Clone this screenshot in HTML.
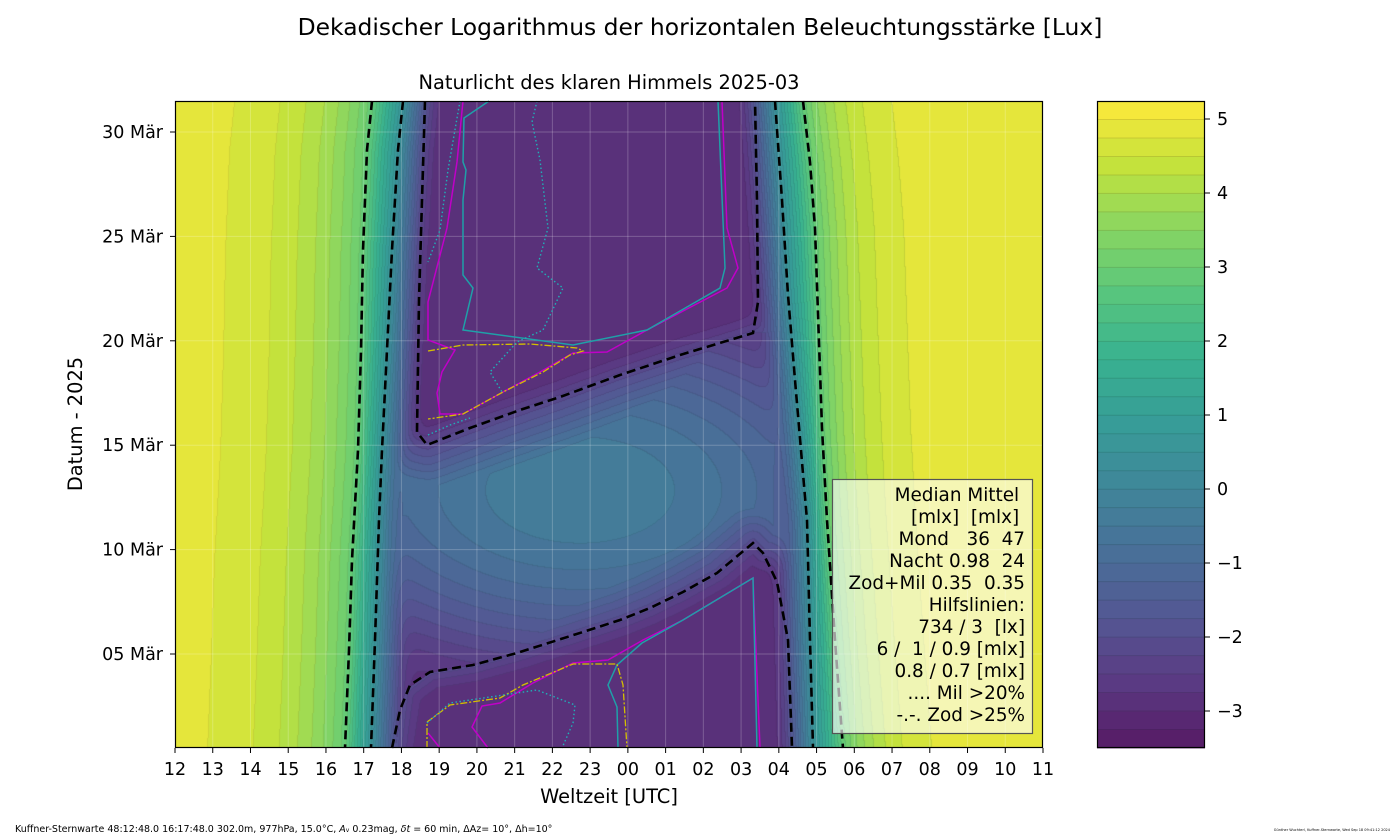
<!DOCTYPE html>
<html><head><meta charset="utf-8">
<style>
html,body{margin:0;padding:0;background:#fff;}
#wrap{position:relative;width:1400px;height:840px;overflow:hidden;font-family:"DejaVu Sans","Liberation Sans",sans-serif;}
canvas{position:absolute;left:175px;top:101px;}
svg{position:absolute;left:0;top:0;}
</style></head><body>
<div id="wrap">
<canvas id="c" width="868" height="647"></canvas>
<svg id="s" width="1400" height="840" xmlns="http://www.w3.org/2000/svg" font-family="DejaVu Sans, Liberation Sans, sans-serif">
<text x="700" y="35" font-size="23.4" text-anchor="middle">Dekadischer Logarithmus der horizontalen Beleuchtungsstärke [Lux]</text>
<text x="609" y="89" font-size="19.4" text-anchor="middle">Naturlicht des klaren Himmels 2025-03</text>
<text x="609" y="803" font-size="19.4" text-anchor="middle">Weltzeit [UTC]</text>
<text transform="translate(82,424) rotate(-90)" font-size="19.4" text-anchor="middle">Datum - 2025</text>
<text x="15" y="832" font-size="9.5">Kuffner-Sternwarte 48:12:48.0 16:17:48.0 302.0m,  977hPa, 15.0°C, <tspan font-style="italic">A</tspan><tspan font-size="6">v</tspan> 0.23mag, <tspan font-style="italic">δt</tspan> = 60 min, ΔAz= 10°, Δh=10°</text>
<text x="1390" y="831" font-size="3.5" text-anchor="end">Günther Wuchterl, Kuffner-Sternwarte, Wed Sep 18 09:41:12 2024</text>
<g id="grid" stroke="#ffffff" stroke-opacity="0.22" stroke-width="1"></g>
<g id="lines" fill="none"></g>
<g id="ax"></g>
<g id="leg"></g>
<g id="cb"></g>
</svg>
</div>
<script>
(function(){
var X0=175,Y0=101,W=868,H=647;
var vstops=[[68,1,84],[72,36,117],[65,68,135],[53,95,141],[42,120,142],[33,145,140],[34,168,132],[68,191,112],[122,209,81],[189,223,38],[253,231,37]];
function vir(t){t=Math.max(0,Math.min(1,t));var f=t*10,i=Math.min(9,Math.floor(f)),r=f-i;var a=vstops[i],b=vstops[i+1];return [a[0]+(b[0]-a[0])*r,a[1]+(b[1]-a[1])*r,a[2]+(b[2]-a[2])*r];}
function col(idx){var c=vir((idx+0.5)/35);return [c[0]*0.9+25.5,c[1]*0.9+25.5,c[2]*0.9+25.5];}
function interp(pts,y){
 if(y<=pts[0][1])return pts[0][0];
 for(var i=1;i<pts.length;i++){if(y<=pts[i][1]){var a=pts[i-1],b=pts[i];return a[0]+(b[0]-a[0])*(y-a[1])/(b[1]-a[1]);}}
 return pts[pts.length-1][0];}
var L1=[[372,101],[367,150],[363,250],[361,350],[358,450],[352,560],[349,650],[345,748]];
var L2=[[403,101],[398,150],[392,250],[387,350],[382,450],[379,520],[375,640],[371,748]];
var R2=[[775,101],[782,200],[788,295],[795,380],[802,462],[807,520],[810,640],[813,748]];
var R1=[[803,101],[810,162],[815,228],[822,428],[827,520],[835,640],[843,748]];
var poly=[[400,440],[427,445],[500,418],[560,397],[620,375],[680,355],[753,333],[800,330],[800,560],[763,553],[753,543],[717,573],[683,592],[650,608],[620,620],[583,632],[517,653],[473,665],[430,672],[405,690],[395,748],[370,748],[370,440]];
function inPoly(x,y){var c=false;for(var i=0,j=poly.length-1;i<poly.length;j=i++){var a=poly[i],b=poly[j];if(((a[1]>y)!=(b[1]>y))&&(x<(b[0]-a[0])*(y-a[1])/(b[1]-a[1])+a[0]))c=!c;}return c;}
function dPoly(x,y){var m=1e9;for(var i=0,j=poly.length-1;i<poly.length;j=i++){var a=poly[i],b=poly[j];var dx=b[0]-a[0],dy=b[1]-a[1];var t=((x-a[0])*dx+(y-a[1])*dy)/(dx*dx+dy*dy);t=Math.max(0,Math.min(1,t));var ex=a[0]+t*dx-x,ey=a[1]+t*dy-y;var d=ex*ex+ey*ey;if(d<m)m=d;}return Math.sqrt(m);}
var cv=document.getElementById('c'),ctx=cv.getContext('2d');
var img=ctx.createImageData(W,H),D=img.data;
var lev=new Int16Array(W*H);
for(var py=0;py<H;py++){
 var y=py+Y0;
 var l1=interp(L1,y),l2=interp(L2,y),r1=interp(R1,y),r2=interp(R2,y);
 for(var px=0;px<W;px++){
  var x=px+X0,sun;
  if(x<l1){sun=4.98-2.11*Math.exp(-(l1-x)/62);}
  else if(x<l2){sun=2.87-(2.87-0.48)*(x-l1)/(l2-l1);}
  else if(x>r1){sun=4.98-2.11*Math.exp(-(x-r1)/40);}
  else if(x>r2){sun=2.87-(2.87-0.48)*(r1-x)/(r1-r2);}
  else{var dd=Math.min(x-l2,r2-x);sun=0.48-3.9*dd/38;}
  var night=-2.95,moon;
  var dp=dPoly(x,y);
  if(inPoly(x,y)){
   var cap=-0.3-Math.pow((x-580)/240,2)*1.3-Math.pow((y-490)/140,2)*1.4;
   moon=Math.min(-2.2+dp*0.035,cap);
  } else {moon=-2.2-dp*0.06;}
  var v=Math.log10(Math.pow(10,sun)+Math.pow(10,night)+Math.pow(10,moon));
  var idx=Math.floor((v+3.5)/0.25);if(idx<0)idx=0;if(idx>34)idx=34;
  lev[py*W+px]=idx;
 }}
for(var py=0;py<H;py++)for(var px=0;px<W;px++){
 var i=py*W+px,idx=lev[i],c=col(idx);
 var edge=(px<W-1&&lev[i+1]!=idx)||(py<H-1&&lev[i+W]!=idx);
 var f=edge?0.92:1;
 D[i*4]=c[0]*f;D[i*4+1]=c[1]*f;D[i*4+2]=c[2]*f;D[i*4+3]=255;}
ctx.putImageData(img,0,0);

var NS="http://www.w3.org/2000/svg";
function el(p,n,a,t){var e=document.createElementNS(NS,n);for(var k in a)e.setAttribute(k,a[k]);if(t!==undefined)e.textContent=t;p.appendChild(e);return e;}
var g=document.getElementById('grid'),ax=document.getElementById('ax'),ln=document.getElementById('lines');
var hs=37.7391;
for(var i=0;i<24;i++){var x=X0+i*hs;el(g,'line',{x1:x,y1:Y0,x2:x,y2:Y0+H});
 el(ax,'line',{x1:x,y1:748,x2:x,y2:753,stroke:'#000','stroke-width':1});
 var h=(12+i)%24;el(ax,'text',{x:x,y:775,'font-size':17.5,'text-anchor':'middle'},(h<10?'0':'')+h);}
var ds=20.88;
for(var d=5;d<=30;d+=5){var y=654-(d-5)*ds;el(g,'line',{x1:X0,y1:y,x2:X0+W,y2:y});
 el(ax,'line',{x1:170,y1:y,x2:175,y2:y,stroke:'#000','stroke-width':1});
 el(ax,'text',{x:163,y:y+6,'font-size':17.5,'text-anchor':'end'},(d<10?'0':'')+d+' Mär');}
el(ax,'rect',{x:175.5,y:101.5,width:867,height:646,fill:'none',stroke:'#000','stroke-width':1.2});
function pl(pts,st){var s=pts.map(function(p){return p[0]+','+p[1];}).join(' ');var a={points:s};for(var k in st)a[k]=st[k];el(ln,'polyline',a);}
var dash={stroke:'#000','stroke-width':2.6,'stroke-dasharray':'9,5'};
pl(L1,dash);pl(L2,dash);pl(R2,dash);pl(R1,dash);
pl([[425,101],[422,200],[419,300],[417,432],[427,445],[470,428],[520,410],[560,397],[620,375],[680,355],[753,333],[758,302],[757,200],[755,101]],dash);
pl([[392,748],[400,710],[410,685],[430,672],[473,665],[517,653],[583,632],[620,620],[650,608],[683,592],[717,573],[753,543],[763,553],[777,582],[788,640],[792,748]],dash);
var cy={stroke:'#1fa0a8','stroke-width':1.5},mg={stroke:'#c000c8','stroke-width':1.5};
var yl={stroke:'#d4c000','stroke-width':1.3,'stroke-dasharray':'7,2,2,2'},cd={stroke:'#1fb0b8','stroke-width':1.4,'stroke-dasharray':'1.5,2.5'};
pl([[463,101],[457,162],[447,228],[428,302],[428,340],[455,350],[442,372],[437,393],[440,414],[463,414],[503,392],[540,372],[573,353],[607,352],[647,330],[727,288],[738,268],[727,228],[722,101]],mg);
pl([[489,101],[464,118],[463,162],[466,170],[463,200],[463,275],[473,288],[463,330],[573,345],[647,330],[720,288],[725,268],[718,101]],cy);
pl([[428,351],[463,345],[530,344],[577,348],[583,351],[570,355],[543,372],[503,392],[463,414],[428,419]],yl);
pl([[537,101],[532,122],[540,160],[548,228],[537,268],[563,288],[543,330],[517,342],[490,372],[502,392]],cd);
pl([[460,101],[448,170],[440,230],[428,262]],cd);
pl([[428,435],[450,425],[470,418]],cd);
pl([[760,748],[753,578],[683,620],[643,640],[608,660],[573,663],[533,683],[500,703],[482,706],[472,727],[488,748]],mg);
pl([[428,733],[440,748]],mg);
pl([[757,748],[753,578],[683,620],[642,643],[617,665],[608,685],[617,707],[618,748]],cy);
pl([[427,748],[427,722],[450,705],[500,698],[523,685],[573,664],[617,664],[623,685],[627,748]],yl);
pl([[427,723],[450,703],[537,690],[575,705],[573,723],[562,748]],cd);
var lg=document.getElementById('leg');
el(lg,'rect',{x:832.5,y:479.5,width:200,height:254,fill:'#ffffff','fill-opacity':0.62,stroke:'#555','stroke-width':1.2});
var lines=['Median Mittel ','[mlx]  [mlx] ','Mond   36  47','Nacht 0.98  24','Zod+Mil 0.35  0.35','Hilfslinien:','734 / 3  [lx]','6 /  1 / 0.9 [mlx]','0.8 / 0.7 [mlx]','.... Mil >20%','-.-. Zod >25%'];
for(var i=0;i<lines.length;i++){var t=el(lg,'text',{x:1025,y:501+i*22,'font-size':18.4,'text-anchor':'end'},lines[i]);t.setAttribute('xml:space','preserve');t.style.whiteSpace='pre';}
var cb=document.getElementById('cb');var bh=647/35;
for(var i=0;i<35;i++){var c=col(i);el(cb,'rect',{x:1097,y:748-(i+1)*bh,width:108,height:bh+0.4,fill:'rgb('+Math.round(c[0])+','+Math.round(c[1])+','+Math.round(c[2])+')'});}
for(var i=1;i<35;i++){var yy=748-i*bh;el(cb,'line',{x1:1097,y1:yy,x2:1205,y2:yy,stroke:'#000','stroke-opacity':0.12,'stroke-width':1});}
el(cb,'rect',{x:1097.5,y:101.5,width:107,height:646,fill:'none',stroke:'#000','stroke-width':1.2});
for(var v=-3;v<=5;v++){var yy=748-(v+3.5)*74;el(cb,'line',{x1:1205,y1:yy,x2:1210,y2:yy,stroke:'#000'});
 el(cb,'text',{x:1217,y:yy+6,'font-size':17.5},v<0?'\u2212'+(-v):''+v);}
})();
</script>
</body></html>
